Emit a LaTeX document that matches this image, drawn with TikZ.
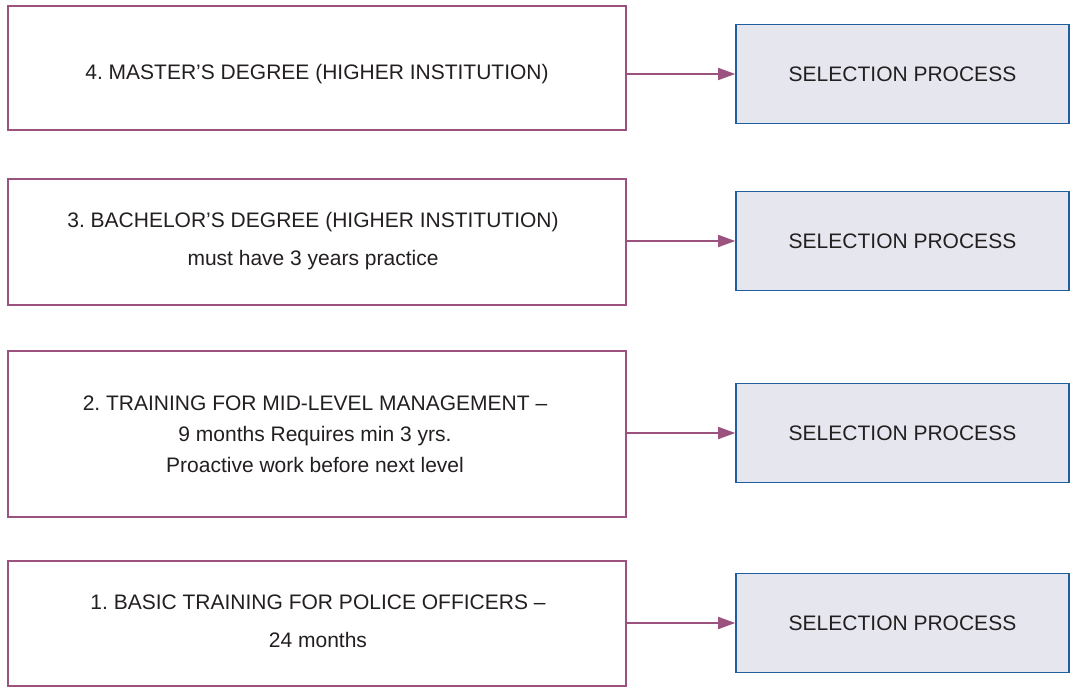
\documentclass[tikz,border=0pt]{standalone}
\usepackage{fontspec}
\setmainfont{Liberation Sans}
\usetikzlibrary{arrows.meta}
\definecolor{plum}{HTML}{9C527E}
\definecolor{selfill}{HTML}{E6E7EE}
\definecolor{selborder}{HTML}{1F5F9F}
\definecolor{txt}{HTML}{231F20}
\tikzset{
  x=1pt, y=-1pt,
  levelbox/.style={draw=plum, line width=1.6pt, fill=white, minimum width=618pt, inner sep=0pt},
  selbox/.style={draw=selborder, line width=1.6pt, fill=selfill, minimum width=333pt, minimum height=99pt, inner sep=0pt, text=txt, font=\fontsize{21}{26}\selectfont},
  leveltext/.style={align=center, text=txt, font=\fontsize{21}{38}\selectfont\frenchspacing},
  conn/.style={draw=plum, line width=1.6pt, -{Triangle[length=17pt,width=12pt]}},
}
\begin{document}
\begin{tikzpicture}
\frenchspacing
\useasboundingbox (0,0) rectangle (1071,687);
\node[levelbox, minimum height=124pt] (l4) at (317,68) {};
\node[levelbox, minimum height=126pt] (l3) at (317,242) {};
\node[levelbox, minimum height=166pt] (l2) at (317,434) {};
\node[levelbox, minimum height=125pt] (l1) at (317,623.5) {};
\node[leveltext] (t4) at (317,74) {4. MASTER'S DEGREE (HIGHER INSTITUTION)};
\node[leveltext] (t3) at (313,241) {3. BACHELOR'S DEGREE (HIGHER INSTITUTION)\\ must have 3 years practice};
\node[leveltext, font=\fontsize{21}{31}\selectfont\frenchspacing] (t2) at (315,434) {2. TRAINING FOR MID-LEVEL MANAGEMENT --\\ 9 months Requires min 3 yrs.\\ Proactive work before next level};
\node[leveltext] (t1) at (318,621) {1. BASIC TRAINING FOR POLICE OFFICERS --\\ 24 months};
\node[selbox] (s4) at (902.5,74) {SELECTION PROCESS};
\node[selbox] (s3) at (902.5,241) {SELECTION PROCESS};
\node[selbox] (s2) at (902.5,433) {SELECTION PROCESS};
\node[selbox] (s1) at (902.5,623) {SELECTION PROCESS};
\draw[conn] (l4.east |- s4.west) -- (s4.west);
\draw[conn] (l3.east |- s3.west) -- (s3.west);
\draw[conn] (l2.east |- s2.west) -- (s2.west);
\draw[conn] (l1.east |- s1.west) -- (s1.west);
\end{tikzpicture}
\end{document}
